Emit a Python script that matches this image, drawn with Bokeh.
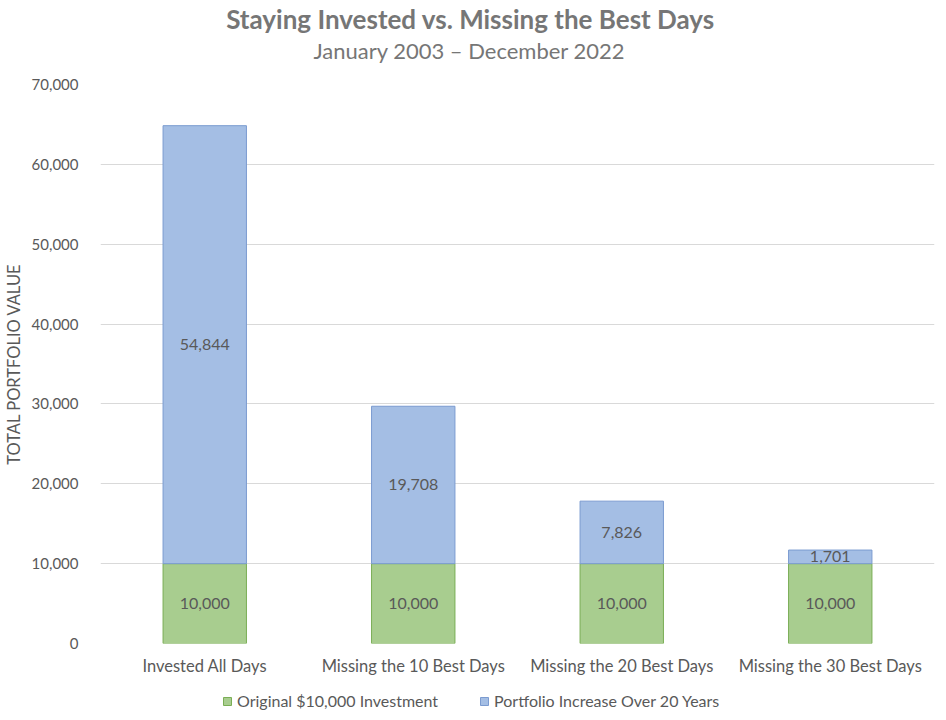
from bokeh.plotting import figure
from bokeh.layouts import column
from bokeh.models import (ColumnDataSource, FactorRange, Legend, LegendItem,
                          Label, NumeralTickFormatter, Range1d)
from bokeh.core.properties import value
from bokeh.embed import file_html
from bokeh.resources import INLINE

categories = ["Invested All Days", "Missing the 10 Best Days",
              "Missing the 20 Best Days", "Missing the 30 Best Days"]
original = [10000, 10000, 10000, 10000]
increase = [54844, 19708, 7826, 1701]
series_names = ["Original $10,000 Investment", "Portfolio Increase Over 20 Years"]
title_text = "Staying Invested vs. Missing the Best Days"
subtitle_text = "January 2003 \u2013 December 2022"
y_label = "TOTAL PORTFOLIO VALUE"

FONT = "Lato"
GREEN = "#a8cd8f"
GREEN_LINE = "#7aae55"
BLUE = "#a4bee4"
BLUE_LINE = "#7b9bd0"
GRAY = "#595959"
TGRAY = "#767676"

W = 938
LEFT = 100  # frames of the stacked figures are aligned on this left edge


def bare(fig):
    fig.outline_line_color = None
    fig.background_fill_color = "white"
    fig.border_fill_color = "white"
    return fig


# ---- header with title and subtitle
HH = 70
header = bare(figure(width=W, height=HH, output_backend="svg",
                     toolbar_location=None, x_range=Range1d(0, 1),
                     y_range=Range1d(0, 1), x_axis_location=None,
                     y_axis_location=None, min_border=0))
header.grid.visible = False
header.add_layout(Label(x=470 - LEFT, y=HH - 18, x_units="screen", y_units="screen",
                        text=title_text, text_align="center",
                        text_baseline="middle", text_font=FONT,
                        text_font_size="26px", text_font_style="bold",
                        text_color=TGRAY))
header.add_layout(Label(x=469 - LEFT, y=HH - 50, x_units="screen", y_units="screen",
                        text=subtitle_text, text_align="center",
                        text_baseline="middle", text_font=FONT,
                        text_font_size="22px", text_color=TGRAY))

# ---- main chart
src = ColumnDataSource(dict(
    cat=categories,
    original=original,
    increase=increase,
    orig_mid=[o / 2 for o in original],
    inc_mid=[o + i / 2 for o, i in zip(original, increase)],
    orig_txt=[f"{o:,}" for o in original],
    inc_txt=[f"{i:,}" for i in increase],
))

TOP, FRAME_H, BOTTOM = 84 - HH, 559, 41
p = bare(figure(width=W, height=TOP + FRAME_H + BOTTOM, output_backend="svg",
                toolbar_location=None,
                x_range=FactorRange(*categories, range_padding=0),
                y_range=Range1d(0, 70000),
                min_border_left=LEFT, min_border_right=4,
                min_border_top=TOP, min_border_bottom=BOTTOM))
p.title = None

r = p.vbar_stack(["original", "increase"], x="cat", width=0.4, source=src,
                 fill_color=[GREEN, BLUE], line_color=[GREEN_LINE, BLUE_LINE],
                 line_width=1)

p.text(x="cat", y="orig_mid", text="orig_txt", source=src,
       text_align="center", text_baseline="middle",
       text_font=value(FONT), text_font_size="16px", text_color=GRAY)
p.text(x="cat", y="inc_mid", text="inc_txt", source=src,
       text_align="center", text_baseline="middle",
       text_font=value(FONT), text_font_size="16px", text_color=GRAY)

p.xaxis.axis_line_color = None
p.xaxis.major_tick_line_color = None
p.xaxis.minor_tick_line_color = None
p.xaxis.major_label_text_font = FONT
p.xaxis.major_label_text_font_size = "16.5px"
p.xaxis.major_label_text_color = GRAY
p.xaxis.major_label_standoff = 6
p.xgrid.grid_line_color = None

p.yaxis.axis_line_color = None
p.yaxis.major_tick_line_color = None
p.yaxis.minor_tick_line_color = None
p.yaxis.ticker = [0, 10000, 20000, 30000, 40000, 50000, 60000, 70000]
p.yaxis.formatter = NumeralTickFormatter(format="0,0")
p.yaxis.major_label_text_font = FONT
p.yaxis.major_label_text_font_size = "15px"
p.yaxis.major_label_text_color = GRAY
p.yaxis.major_label_standoff = 16
p.yaxis.axis_label = y_label
p.yaxis.axis_label_text_font = FONT
p.yaxis.axis_label_text_font_size = "16.5px"
p.yaxis.axis_label_text_font_style = "normal"
p.yaxis.axis_label_text_color = GRAY
p.yaxis.axis_label_standoff = 5
p.ygrid.grid_line_color = "#d9d9d9"
p.ygrid.grid_line_width = 1

# ---- legend strip (swatch glyphs sit outside the strip's visible range)
LH = 32
lf = bare(figure(width=W, height=LH, output_backend="svg",
                 toolbar_location=None, x_range=Range1d(0, 1),
                 y_range=Range1d(0, 1), x_axis_location=None,
                 y_axis_location=None, min_border=0))
lf.grid.visible = False
g1 = lf.quad(left=[-3], right=[-2], top=[-2], bottom=[-3],
             fill_color=GREEN, line_color=GREEN_LINE)
g2 = lf.quad(left=[-3], right=[-2], top=[-2], bottom=[-3],
             fill_color=BLUE, line_color=BLUE_LINE)
legend = Legend(items=[LegendItem(label=series_names[0], renderers=[g1]),
                       LegendItem(label=series_names[1], renderers=[g2])],
                orientation="horizontal", location=(222 - LEFT, 6),
                label_text_font=FONT, label_text_font_size="16px",
                label_text_color=GRAY, glyph_width=10, glyph_height=10,
                label_standoff=5, spacing=41, padding=0, margin=0,
                border_line_color=None, background_fill_alpha=0)
lf.add_layout(legend, "center")

layout = column(header, p, lf, spacing=0)
open("out.html", "w").write(file_html(layout, INLINE))
